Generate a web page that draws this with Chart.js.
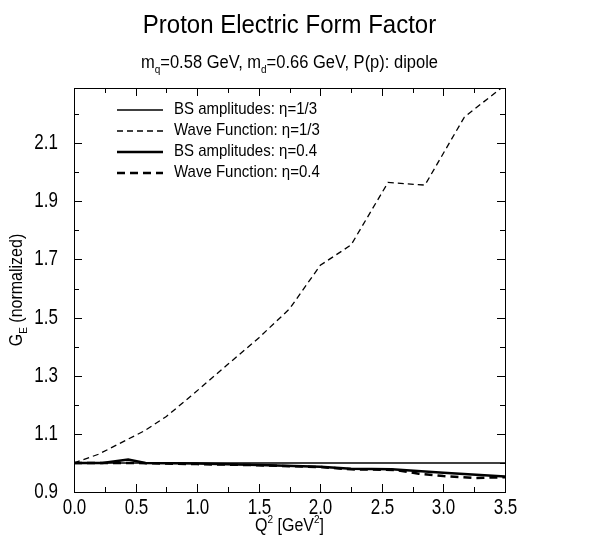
<!DOCTYPE html>
<html>
<head>
<meta charset="utf-8">
<script src="https://cdn.jsdelivr.net/npm/chart.js@4.4.1/dist/chart.umd.min.js"></script>
<style>
  html, body { margin: 0; padding: 0; background: #fff; }
</style>
</head>
<body>
<canvas id="myChart" width="590" height="545"></canvas>
<script>
"use strict";

// values
const q2Bs13 = [0, 0.5, 1.0, 1.5, 2.0, 2.5, 3.0, 3.5];
const geBs13 = [1.0, 1.0, 1.0, 1.0, 1.0, 1.0, 1.0, 1.0];

const q2Wave13 = [0, 0.2, 0.43, 0.57, 0.75, 0.95, 1.24, 1.5, 1.75, 2.0, 2.25, 2.55, 2.85, 3.17, 3.5];
const geWave13 = [1.0, 1.03, 1.08, 1.11, 1.16, 1.23, 1.336, 1.43, 1.53, 1.68, 1.75, 1.965, 1.956, 2.19, 2.30];

const q2Bs04 = [0, 0.23, 0.44, 0.58, 1.0, 1.5, 2.0, 2.25, 2.58, 3.0, 3.5];
const geBs04 = [1.0, 1.0, 1.012, 1.0, 0.998, 0.993, 0.987, 0.98, 0.978, 0.966, 0.953];

const q2Wave04 = [0, 0.25, 0.5, 1.0, 1.5, 2.0, 2.25, 2.6, 2.8, 3.0, 3.25, 3.5];
const geWave04 = [1.0, 1.0, 1.0, 0.996, 0.992, 0.986, 0.978, 0.976, 0.963, 0.955, 0.948, 0.951];

const seriesLabels = [
  "BS amplitudes: \u03b7=1/3",
  "Wave Function: \u03b7=1/3",
  "BS amplitudes: \u03b7=0.4",
  "Wave Function: \u03b7=0.4"
];

const FONT = '"Liberation Sans", Arial, Helvetica, sans-serif';

function pairs(xs, ys) {
  return xs.map(function (x, i) { return { x: x, y: ys[i] }; });
}

function xLabel(v) { return Math.round(v * 4) % 2 === 0 ? v.toFixed(1) : ""; }
function yLabel(v) { return Math.round(v * 10) % 2 === 1 ? v.toFixed(1) : ""; }

// text squeezed a little taller, like the postscript original
function tallText(ctx, text, x, y, size, sy, align, base) {
  ctx.save();
  ctx.translate(x, y);
  ctx.scale(1, sy);
  ctx.font = size + "px " + FONT;
  ctx.textAlign = align;
  ctx.textBaseline = base;
  ctx.fillText(text, 0, 0);
  ctx.restore();
}

// draw a run of text pieces, some of them sub/superscripted
function drawRich(ctx, parts, x, y, size, align, sy) {
  const small = Math.round(size * 0.62);
  let total = 0;
  parts.forEach(function (p) {
    ctx.font = (p.s ? small : size) + "px " + FONT;
    p.w = ctx.measureText(p.t).width;
    total += p.w;
  });
  ctx.save();
  ctx.translate(align === "center" ? x - total / 2 : x, y);
  ctx.scale(1, sy || 1);
  let cx = 0;
  ctx.textAlign = "left";
  ctx.textBaseline = "alphabetic";
  parts.forEach(function (p) {
    ctx.font = (p.s ? small : size) + "px " + FONT;
    let dy = 0;
    if (p.s === "sub") dy = size * 0.28;
    if (p.s === "sup") dy = -size * 0.42;
    ctx.fillText(p.t, cx, dy);
    cx += p.w;
  });
  ctx.restore();
}

const framePlugin = {
  id: "frame",
  afterDraw: function (chart) {
    const ctx = chart.ctx;
    const a = chart.chartArea;
    const xs = chart.scales.x;
    const ys = chart.scales.y;
    ctx.save();
    ctx.strokeStyle = "#000";
    ctx.fillStyle = "#000";
    ctx.lineWidth = 1;
    ctx.setLineDash([]);
    ctx.strokeRect(a.left + 0.5, a.top + 0.5, a.right - a.left, a.bottom - a.top);

    // inward ticks on all four sides, labels on left and bottom
    ctx.beginPath();
    xs.ticks.forEach(function (t) {
      const px = Math.round(xs.getPixelForValue(t.value)) + 0.5;
      const lab = xLabel(t.value);
      const len = lab ? 8 : 5;
      ctx.moveTo(px, a.bottom);
      ctx.lineTo(px, a.bottom - len);
      ctx.moveTo(px, a.top);
      ctx.lineTo(px, a.top + len);
      if (lab) tallText(ctx, lab, px, a.bottom + 22, 17, 1.25, "center", "alphabetic");
    });
    ys.ticks.forEach(function (t) {
      const py = Math.round(ys.getPixelForValue(t.value)) + 0.5;
      const lab = yLabel(t.value);
      const len = lab ? 8 : 5;
      ctx.moveTo(a.left, py);
      ctx.lineTo(a.left + len, py);
      ctx.moveTo(a.right, py);
      ctx.lineTo(a.right - len, py);
      if (lab) tallText(ctx, lab, a.left - 16, py, 17, 1.25, "right", "middle");
    });
    ctx.stroke();

    // legend inside the plot
    chart.data.datasets.forEach(function (ds, i) {
      const y = a.top + 22 + i * 21;
      ctx.beginPath();
      ctx.lineWidth = ds.borderWidth;
      ctx.setLineDash(ds.borderDash || []);
      ctx.moveTo(a.left + 43, y);
      ctx.lineTo(a.left + 89, y);
      ctx.stroke();
      ctx.setLineDash([]);
      tallText(ctx, ds.label, a.left + 100, y, 15, 1.08, "left", "middle");
    });

    // titles
    const mid = (a.left + a.right) / 2;
    drawRich(ctx, [{ t: "Proton Electric Form Factor" }], mid, 33, 24, "center", 1.05);
    drawRich(ctx, [
      { t: "m" }, { t: "q", s: "sub" }, { t: "=0.58 GeV, m" }, { t: "d", s: "sub" },
      { t: "=0.66 GeV, P(p): dipole" }
    ], mid, 68, 16.5, "center", 1.1);
    drawRich(ctx, [
      { t: "Q" }, { t: "2", s: "sup" }, { t: " [GeV" }, { t: "2", s: "sup" }, { t: "]" }
    ], mid, 531, 16, "center", 1.15);

    ctx.save();
    ctx.translate(22, (a.top + a.bottom) / 2);
    ctx.rotate(-Math.PI / 2);
    drawRich(ctx, [{ t: "G" }, { t: "E", s: "sub" }, { t: " (normalized)" }], 0, 0, 16, "center", 1.15);
    ctx.restore();
    ctx.restore();
  }
};

const ctx = document.getElementById("myChart").getContext("2d");

new Chart(ctx, {
  type: "line",
  data: {
    datasets: [
      {
        label: seriesLabels[0],
        data: pairs(q2Bs13, geBs13),
        borderColor: "#000",
        borderWidth: 1.4,
        borderDash: [],
        pointRadius: 0,
        tension: 0
      },
      {
        label: seriesLabels[1],
        data: pairs(q2Wave13, geWave13),
        borderColor: "#000",
        borderWidth: 1.3,
        borderDash: [6, 4],
        pointRadius: 0,
        tension: 0
      },
      {
        label: seriesLabels[2],
        data: pairs(q2Bs04, geBs04),
        borderColor: "#000",
        borderWidth: 2.5,
        borderDash: [],
        pointRadius: 0,
        tension: 0
      },
      {
        label: seriesLabels[3],
        data: pairs(q2Wave04, geWave04),
        borderColor: "#000",
        borderWidth: 2.5,
        borderDash: [8, 5],
        pointRadius: 0,
        tension: 0
      }
    ]
  },
  options: {
    responsive: false,
    animation: false,
    events: [],
    layout: {
      padding: { top: 88, right: 85, bottom: 0, left: 0 }
    },
    plugins: {
      legend: { display: false },
      title: { display: false },
      tooltip: { enabled: false }
    },
    scales: {
      x: {
        type: "linear",
        min: 0,
        max: 3.5,
        grid: { display: false, drawTicks: false },
        border: { display: false },
        afterFit: function (scale) { scale.height = 53; },
        ticks: { stepSize: 0.25, autoSkip: false, display: false, callback: xLabel }
      },
      y: {
        type: "linear",
        min: 0.9,
        max: 2.29,
        grid: { display: false, drawTicks: false },
        border: { display: false },
        afterFit: function (scale) { scale.width = 74; },
        ticks: { stepSize: 0.1, includeBounds: false, autoSkip: false, display: false, callback: yLabel }
      }
    }
  },
  plugins: [framePlugin]
});
</script>
</body>
</html>
